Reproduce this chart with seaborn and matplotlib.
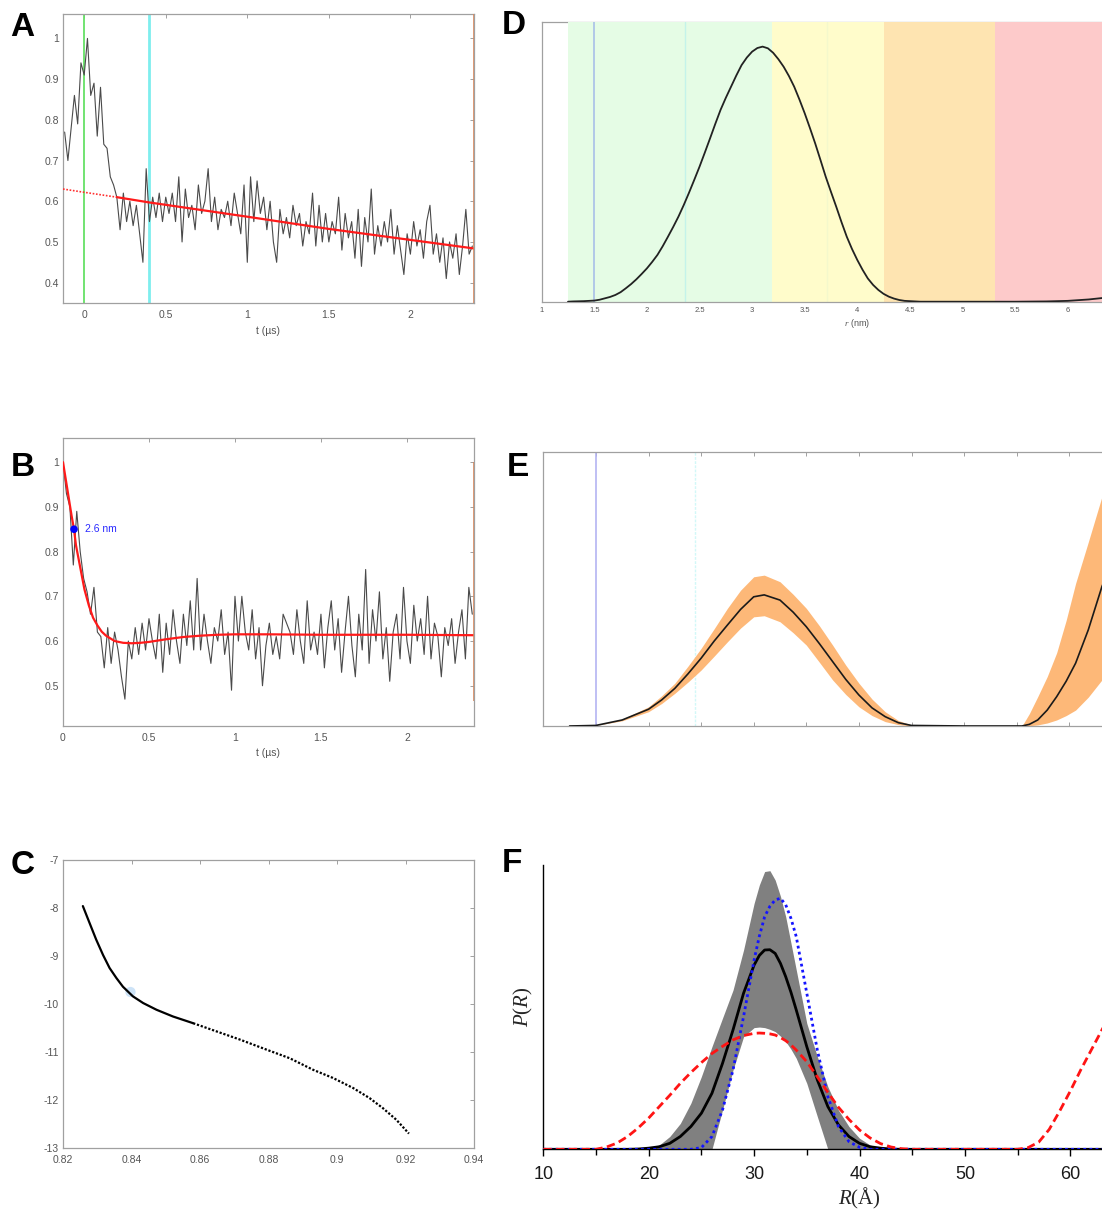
import numpy as np
import seaborn as sns
import matplotlib
matplotlib.use("Agg")
import matplotlib.pyplot as plt

# ---------------- data ----------------
# A: raw trace (t from -0.12 us, step 0.02 us) and background fit
a_t0, a_dt = -0.12, 0.02
a_val = [0.77, 0.70, 0.78, 0.86, 0.79, 0.94, 0.91, 1.00, 0.86, 0.89,
         0.76, 0.88, 0.74, 0.73, 0.66, 0.64, 0.61, 0.53, 0.62, 0.55,
         0.60, 0.54, 0.59, 0.52, 0.45, 0.68, 0.55, 0.61, 0.56, 0.62,
         0.55, 0.61, 0.57, 0.62, 0.55, 0.66, 0.50, 0.63, 0.56, 0.59,
         0.53, 0.64, 0.57, 0.60, 0.68, 0.55, 0.61, 0.53, 0.58, 0.56,
         0.60, 0.54, 0.62, 0.57, 0.52, 0.64, 0.45, 0.66, 0.55, 0.65,
         0.57, 0.61, 0.53, 0.60, 0.50, 0.45, 0.58, 0.52, 0.56, 0.51,
         0.59, 0.54, 0.57, 0.49, 0.55, 0.52, 0.62, 0.49, 0.59, 0.50,
         0.57, 0.50, 0.55, 0.52, 0.61, 0.48, 0.57, 0.51, 0.55, 0.46,
         0.58, 0.44, 0.56, 0.50, 0.63, 0.47, 0.54, 0.49, 0.55, 0.50,
         0.58, 0.47, 0.54, 0.48, 0.42, 0.52, 0.47, 0.55, 0.49, 0.53,
         0.46, 0.55, 0.59, 0.47, 0.52, 0.45, 0.51, 0.41, 0.50, 0.46,
         0.52, 0.42, 0.49, 0.58, 0.47, 0.49]
a_fit_t_dot = [-0.13, 0.0, 0.2]
a_fit_v_dot = [0.630, 0.622, 0.610]
a_fit_t = [0.2, 0.4, 1.0, 1.5, 2.0, 2.39]
a_fit_v = [0.610, 0.597, 0.562, 0.532, 0.505, 0.484]
a_zero_time, a_start_time, a_end_time = 0.0, 0.4, 2.39

# B: form factor (t from 0, step 0.02 us) and fit
b_t0, b_dt = 0.0, 0.02
b_val = [1.00, 0.93, 0.90, 0.77, 0.89, 0.80, 0.74, 0.71, 0.66, 0.72,
         0.62, 0.61, 0.54, 0.63, 0.55, 0.62, 0.58, 0.52, 0.47, 0.60,
         0.56, 0.63, 0.57, 0.64, 0.58, 0.65, 0.60, 0.56, 0.66, 0.53,
         0.64, 0.57, 0.67, 0.60, 0.55, 0.66, 0.59, 0.69, 0.58, 0.74,
         0.58, 0.66, 0.60, 0.55, 0.63, 0.60, 0.67, 0.57, 0.62, 0.49,
         0.70, 0.60, 0.70, 0.62, 0.58, 0.67, 0.56, 0.63, 0.50, 0.59,
         0.64, 0.57, 0.61, 0.56, 0.66, 0.64, 0.62, 0.57, 0.67, 0.60,
         0.55, 0.69, 0.58, 0.62, 0.57, 0.66, 0.54, 0.63, 0.69, 0.58,
         0.65, 0.53, 0.62, 0.70, 0.59, 0.52, 0.66, 0.58, 0.76, 0.55,
         0.67, 0.60, 0.71, 0.56, 0.63, 0.51, 0.62, 0.66, 0.56, 0.72,
         0.60, 0.55, 0.68, 0.60, 0.65, 0.57, 0.70, 0.56, 0.64, 0.61,
         0.52, 0.63, 0.59, 0.65, 0.55, 0.62, 0.67, 0.56, 0.72, 0.66]
b_fit_t = [0.0, 0.025, 0.05, 0.064, 0.075, 0.1, 0.125, 0.15, 0.175, 0.2,
           0.225, 0.25, 0.3, 0.35, 0.4, 0.45, 0.5, 0.6, 0.7, 0.8, 0.9, 1.0,
           1.2, 1.5, 2.0, 2.39]
b_fit_v = [1.0, 0.94, 0.88, 0.85, 0.815, 0.765, 0.715, 0.68, 0.652, 0.635,
           0.621, 0.612, 0.600, 0.596, 0.595, 0.596, 0.598, 0.604, 0.609,
           0.612, 0.614, 0.615, 0.615, 0.614, 0.614, 0.613]
b_mark_t, b_mark_v, b_mark_label = 0.064, 0.85, "2.6 nm"
b_end_time, b_end_low = 2.39, 0.465

# C: L-curve
c_x_solid = [0.8258, 0.8278, 0.8297, 0.8317, 0.8336, 0.8356, 0.8375,
             0.8404, 0.8434, 0.8473, 0.8521, 0.8580]
c_y_solid = [-7.96, -8.32, -8.66, -8.98, -9.25, -9.46, -9.64,
             -9.84, -9.98, -10.12, -10.26, -10.40]
c_x_dot = [0.8580, 0.8648, 0.8716, 0.8794, 0.8862, 0.8930, 0.8988,
           0.9047, 0.9095, 0.9134, 0.9173, 0.9210]
c_y_dot = [-10.40, -10.57, -10.74, -10.95, -11.13, -11.37, -11.54,
           -11.75, -11.96, -12.17, -12.41, -12.70]
c_sel_x, c_sel_y = 0.8397, -9.75

# D: distance distribution with reliability bands
d_r = [1.25, 1.3, 1.4, 1.5, 1.55, 1.6, 1.65, 1.7, 1.75, 1.8, 1.85, 1.9,
       1.95, 2.0, 2.05, 2.1, 2.15, 2.2, 2.25, 2.3, 2.35, 2.4, 2.45, 2.5,
       2.55, 2.6, 2.65, 2.7, 2.75, 2.8, 2.85, 2.9, 2.95, 3.0, 3.05, 3.1,
       3.15, 3.2, 3.25, 3.3, 3.35, 3.4, 3.45, 3.5, 3.55, 3.6, 3.65, 3.7,
       3.75, 3.8, 3.85, 3.9, 3.95, 4.0, 4.05, 4.1, 4.15, 4.2, 4.25, 4.3,
       4.35, 4.4, 4.45, 4.5, 4.6, 5.0, 5.5, 5.8, 6.0, 6.2, 6.4, 6.6, 7.0]
d_p = [0.0, 0.001, 0.002, 0.004, 0.007, 0.012, 0.017, 0.024, 0.034, 0.048,
       0.063, 0.080, 0.099, 0.119, 0.142, 0.167, 0.198, 0.232, 0.267, 0.304,
       0.345, 0.389, 0.435, 0.482, 0.532, 0.583, 0.635, 0.685, 0.728, 0.768,
       0.808, 0.845, 0.872, 0.893, 0.906, 0.911, 0.905, 0.889, 0.866, 0.839,
       0.806, 0.768, 0.722, 0.673, 0.620, 0.565, 0.506, 0.446, 0.392, 0.339,
       0.284, 0.232, 0.188, 0.149, 0.114, 0.083, 0.060, 0.042, 0.028, 0.018,
       0.011, 0.006, 0.003, 0.002, 0.0, 0.0, 0.0, 0.001, 0.003, 0.008,
       0.016, 0.028, 0.060]
d_band_edges = [1.25, 3.19, 4.25, 5.31, 7.0]
d_band_colors = ["#e5fce5", "#fffccb", "#fee4b1", "#fdcaca"]
d_ticks = [1, 1.5, 2, 2.5, 3, 3.5, 4, 4.5, 5, 5.5, 6]

# E: distribution with uncertainty band
e_r = [1.25, 1.5, 1.75, 2.0, 2.125, 2.25, 2.375, 2.5, 2.625, 2.75, 2.875,
       3.0, 3.1, 3.25, 3.375, 3.5, 3.625, 3.75, 3.875, 4.0, 4.125, 4.25,
       4.375, 4.5, 5.0, 5.55, 5.62, 5.7, 5.79, 5.88, 5.97, 6.06, 6.18,
       6.31, 6.6, 7.0]
e_mid = [0.0, 0.002, 0.022, 0.061, 0.095, 0.137, 0.190, 0.247, 0.310, 0.368,
         0.425, 0.471, 0.478, 0.459, 0.415, 0.362, 0.300, 0.235, 0.170,
         0.113, 0.066, 0.034, 0.012, 0.002, 0.0, 0.0, 0.006, 0.022, 0.058,
         0.107, 0.163, 0.229, 0.350, 0.508, 0.78, 1.10]
e_hi = [0.0, 0.002, 0.025, 0.070, 0.110, 0.156, 0.218, 0.283, 0.355, 0.429,
        0.495, 0.544, 0.550, 0.526, 0.480, 0.429, 0.365, 0.295, 0.222,
        0.156, 0.098, 0.052, 0.020, 0.004, 0.0, 0.0, 0.045, 0.107, 0.180,
        0.267, 0.385, 0.520, 0.670, 0.836, 1.20, 1.60]
e_lo = [0.0, 0.002, 0.019, 0.052, 0.082, 0.119, 0.160, 0.204, 0.255, 0.307,
        0.357, 0.398, 0.402, 0.380, 0.340, 0.295, 0.232, 0.168, 0.115,
        0.070, 0.038, 0.016, 0.005, 0.0, 0.0, 0.0, 0.001, 0.004, 0.011,
        0.022, 0.038, 0.058, 0.105, 0.168, 0.30, 0.50]
e_ticks = [1.5, 2, 2.5, 3, 3.5, 4, 4.5, 5, 5.5, 6, 6.5]

# F: comparison of P(R)
f_R = [10, 15, 16, 17, 18, 19, 20, 21, 22, 23, 24, 25, 26, 27, 28, 29, 30,
       30.5, 31, 31.5, 32, 32.5, 33, 33.5, 34, 35, 36, 37, 38, 39, 40, 41,
       42, 43, 44, 45, 50, 55, 56, 57, 58, 59, 60, 61, 62, 63, 64, 65, 66,
       70]
f_mean = [0, 0, 0, 0, 0, 0.001, 0.004, 0.009, 0.021, 0.045, 0.080, 0.127,
          0.197, 0.302, 0.420, 0.549, 0.648, 0.682, 0.701, 0.702, 0.689,
          0.654, 0.607, 0.552, 0.490, 0.361, 0.244, 0.150, 0.086, 0.045,
          0.021, 0.009, 0.004, 0.001, 0, 0, 0, 0, 0, 0, 0, 0, 0, 0, 0, 0,
          0, 0, 0, 0]
f_hi = [0, 0, 0, 0, 0, 0.002, 0.006, 0.015, 0.045, 0.091, 0.162, 0.256,
        0.361, 0.461, 0.560, 0.701, 0.865, 0.930, 0.977, 0.980, 0.947,
        0.890, 0.818, 0.725, 0.631, 0.443, 0.326, 0.220, 0.138, 0.080,
        0.039, 0.015, 0.004, 0, 0, 0, 0, 0, 0, 0, 0, 0, 0, 0, 0, 0, 0, 0,
        0, 0]
f_lo = [0, 0, 0, 0, 0, 0, 0, 0, 0, 0, 0, 0, 0, 0.138, 0.279, 0.396, 0.428,
        0.430, 0.428, 0.422, 0.414, 0.398, 0.379, 0.352, 0.320, 0.232,
        0.115, 0, 0, 0, 0, 0, 0, 0, 0, 0, 0, 0, 0, 0, 0, 0, 0, 0, 0, 0, 0,
        0, 0, 0]
f_model = [0, 0, 0, 0, 0, 0, 0, 0, 0, 0, 0, 0.006, 0.045, 0.138, 0.279,
           0.467, 0.666, 0.750, 0.818, 0.855, 0.877, 0.883, 0.860, 0.812,
           0.748, 0.549, 0.349, 0.185, 0.080, 0.027, 0.007, 0, 0, 0, 0, 0,
           0, 0, 0, 0, 0, 0, 0, 0, 0, 0, 0, 0, 0, 0]
f_other = [0, 0, 0.008, 0.022, 0.045, 0.075, 0.110, 0.150, 0.190, 0.232,
           0.270, 0.305, 0.337, 0.362, 0.385, 0.400, 0.408, 0.409, 0.408,
           0.406, 0.402, 0.393, 0.382, 0.367, 0.349, 0.308, 0.255, 0.200,
           0.148, 0.105, 0.068, 0.040, 0.020, 0.008, 0.002, 0, 0, 0, 0.006,
           0.025, 0.070, 0.135, 0.205, 0.280, 0.350, 0.420, 0.490, 0.560,
           0.630, 0.900]

# ---------------- style ----------------
sns.set_style("white")
plt.rcParams["font.family"] = ["Liberation Sans", "DejaVu Sans"]
plt.rcParams["mathtext.fontset"] = "custom"
plt.rcParams["mathtext.it"] = "Liberation Serif:italic"
plt.rcParams["mathtext.rm"] = "Liberation Serif"

SPINE = "#a0a0a0"
TXT = "#555555"
W, H = 1102, 1213


def px_axes(fig, left, top, right, bottom):
    return fig.add_axes([left / W, 1 - bottom / H, (right - left) / W, (bottom - top) / H])


def matlab_box(ax, xt, xtl, yt, ytl, size=7.5):
    for s in ax.spines.values():
        s.set_visible(True)
        s.set_color(SPINE)
        s.set_linewidth(0.9)
    ax.set_xticks(xt)
    ax.set_xticklabels(xtl)
    ax.set_yticks(yt)
    ax.set_yticklabels(ytl)
    ax.tick_params(axis="both", direction="in", top=True, right=True, length=3,
                   width=0.7, color=SPINE, labelsize=size, labelcolor=TXT)
    ax.tick_params(axis="x", pad=5)
    ax.tick_params(axis="y", pad=3)


fig = plt.figure(figsize=(W / 100, H / 100), dpi=100)

# ---------------- A ----------------
axA = px_axes(fig, 63, 14, 474, 303)
a_t = a_t0 + a_dt * np.arange(len(a_val))
axA.axvline(a_zero_time, color="#66e066", lw=1.3, zorder=1)
axA.axvline(a_start_time, color="#7eeeee", lw=2.0, zorder=1)
sns.lineplot(x=a_t, y=a_val, ax=axA, color="#4a4a4a", linewidth=0.8, zorder=2)
sns.lineplot(x=a_fit_t_dot, y=a_fit_v_dot, ax=axA, color="#ff3030",
             linewidth=1.2, linestyle=(0, (1, 1)), zorder=3)
sns.lineplot(x=a_fit_t, y=a_fit_v, ax=axA, color="#ff1a1a", linewidth=1.6, zorder=3)
axA.axvline(a_end_time, color="#d98a60", lw=1.2, zorder=3)
axA.set_xlim(-0.13, 2.39)
axA.set_ylim(0.35, 1.06)
matlab_box(axA, [0, 0.5, 1, 1.5, 2], ["0", "0.5", "1", "1.5", "2"],
           [0.4, 0.5, 0.6, 0.7, 0.8, 0.9, 1.0],
           ["0.4", "0.5", "0.6", "0.7", "0.8", "0.9", "1"])
axA.set_xlabel("t (µs)", fontsize=7.5, color=TXT, labelpad=4)
axA.set_ylabel("")

# ---------------- B ----------------
axB = px_axes(fig, 63, 438, 474, 726)
b_t = b_t0 + b_dt * np.arange(len(b_val))
sns.lineplot(x=b_t, y=b_val, ax=axB, color="#4a4a4a", linewidth=0.8, zorder=2)
sns.lineplot(x=b_fit_t, y=b_fit_v, ax=axB, color="#ff1a1a", linewidth=1.6, zorder=3)
sns.scatterplot(x=[b_mark_t], y=[b_mark_v], ax=axB, color="#0000ff", s=30,
                edgecolor="none", zorder=4)
axB.text(b_mark_t + 0.065, b_mark_v, b_mark_label, color="#2a2aff",
         fontsize=7.5, va="center", ha="left")
axB.vlines(b_end_time, b_end_low, 1.0, color="#d98a60", lw=1.2, zorder=3)
axB.set_xlim(0, 2.39)
axB.set_ylim(0.41, 1.054)
matlab_box(axB, [0, 0.5, 1, 1.5, 2], ["0", "0.5", "1", "1.5", "2"],
           [0.5, 0.6, 0.7, 0.8, 0.9, 1.0],
           ["0.5", "0.6", "0.7", "0.8", "0.9", "1"])
axB.set_xlabel("t (µs)", fontsize=7.5, color=TXT, labelpad=4)
axB.set_ylabel("")

# ---------------- C ----------------
axC = px_axes(fig, 63, 860, 474, 1148)
sns.lineplot(x=c_x_solid, y=c_y_solid, ax=axC, color="black", linewidth=1.6,
             sort=False, zorder=3)
sns.lineplot(x=c_x_dot, y=c_y_dot, ax=axC, color="black", linewidth=1.6,
             linestyle=(0, (1, 0.8)), sort=False, zorder=3)
axC.scatter([c_sel_x], [c_sel_y], s=55, color="#9cc8f0", alpha=0.5,
            edgecolor="none", zorder=2)
axC.set_xlim(0.82, 0.94)
axC.set_ylim(-13, -7)
matlab_box(axC, [0.82, 0.84, 0.86, 0.88, 0.90, 0.92, 0.94],
           ["0.82", "0.84", "0.86", "0.88", "0.9", "0.92", "0.94"],
           [-13, -12, -11, -10, -9, -8, -7],
           ["-13", "-12", "-11", "-10", "-9", "-8", "-7"])
axC.set_xlabel("")
axC.set_ylabel("")

# ---------------- D ----------------
axD = px_axes(fig, 541.7, 21.7, 541.7 + 6 * 105.2, 301.7)
for lo, hi, col in zip(d_band_edges[:-1], d_band_edges[1:], d_band_colors):
    axD.axvspan(lo, hi, color=col, lw=0, zorder=1)
axD.axvline(1.5, color="#a8bfe8", lw=1.2, zorder=2)
axD.axvline(2.36, color="#c4f3ea", lw=1.0, zorder=2)
axD.axvline(3.71, color="#f4f8cc", lw=1.0, zorder=2)
sns.lineplot(x=d_r, y=d_p, ax=axD, color="#222222", linewidth=1.3, zorder=4)
axD.set_xlim(1, 7)
axD.set_ylim(0, 1)
for name, s in axD.spines.items():
    s.set_color(SPINE)
    s.set_linewidth(0.9)
    s.set_visible(name in ("left", "bottom", "top"))
axD.spines["top"].set_zorder(0.5)
axD.set_xticks(d_ticks)
axD.set_xticklabels([f"{v:g}" for v in d_ticks])
axD.set_yticks([])
axD.tick_params(axis="x", length=0, labelsize=5.5, labelcolor=TXT, pad=4)
axD.set_xlabel("$r$ (nm)", fontsize=6.5, color=TXT, labelpad=2)
axD.set_ylabel("")

# ---------------- E ----------------
axE = px_axes(fig, 543.3, 451.7, 543.3 + 6 * 105.2, 726)
axE.fill_between(e_r, e_lo, e_hi, color="#fdb878", lw=0, zorder=2)
axE.axvline(1.5, color="#b4b4f2", lw=1.2, zorder=1)
axE.axvline(2.44, color="#d2f8f8", lw=1.0, linestyle=(0, (2, 1)), zorder=1)
sns.lineplot(x=e_r, y=e_mid, ax=axE, color="#1a1a1a", linewidth=1.2, zorder=4)
axE.set_xlim(1, 7)
axE.set_ylim(0, 1)
for name, s in axE.spines.items():
    s.set_color(SPINE)
    s.set_linewidth(0.9)
    s.set_visible(name in ("left", "bottom", "top"))
axE.set_xticks(e_ticks)
axE.set_xticklabels([])
axE.set_yticks([])
axE.tick_params(axis="x", direction="in", top=True, bottom=True, length=3,
                width=0.7, color=SPINE)
axE.set_xlabel("")
axE.set_ylabel("")

# ---------------- F ----------------
axF = px_axes(fig, 543.3, 865, 543.3 + 60 * 10.54, 1149.3)
axF.fill_between(f_R, f_lo, f_hi, color="#808080", lw=0, zorder=1)
sns.lineplot(x=f_R, y=f_mean, ax=axF, color="black", linewidth=2.0, zorder=3)
sns.lineplot(x=f_R, y=f_model, ax=axF, color="#1414ff", linewidth=2.0,
             linestyle=(0, (1, 1.2)), zorder=4)
sns.lineplot(x=f_R, y=f_other, ax=axF, color="#ff1414", linewidth=2.0,
             linestyle=(0, (3, 1.6)), zorder=5)
axF.set_xlim(10, 70)
axF.set_ylim(0, 1)
for name, s in axF.spines.items():
    s.set_visible(name in ("left", "bottom"))
    s.set_color("black")
    s.set_linewidth(1.0)
axF.set_xticks([10, 20, 30, 40, 50, 60])
axF.set_xticks([15, 25, 35, 45, 55, 65], minor=True)
axF.set_yticks([])
axF.tick_params(axis="x", which="major", direction="out", length=5, width=1,
                color="black", labelsize=13, labelcolor="#1a1a1a", pad=7,
                bottom=True)
axF.tick_params(axis="x", which="minor", direction="out", length=4, width=1,
                color="black", bottom=True)
axF.set_xlabel("$R$(Å)", fontsize=15, family="Liberation Serif", labelpad=2)
axF.set_ylabel("$P$($R$)", fontsize=15, family="Liberation Serif", labelpad=6)

# ---------------- panel letters ----------------
for letter, x, y in [("A", 10, 27), ("B", 11, 467), ("C", 11, 865),
                     ("D", 502, 25), ("E", 507, 467), ("F", 502, 864)]:
    fig.text(x / W, 1 - y / H, letter, fontsize=24, fontweight="bold",
             ha="left", va="center", color="black")

fig.savefig("out.png", dpi=100)
